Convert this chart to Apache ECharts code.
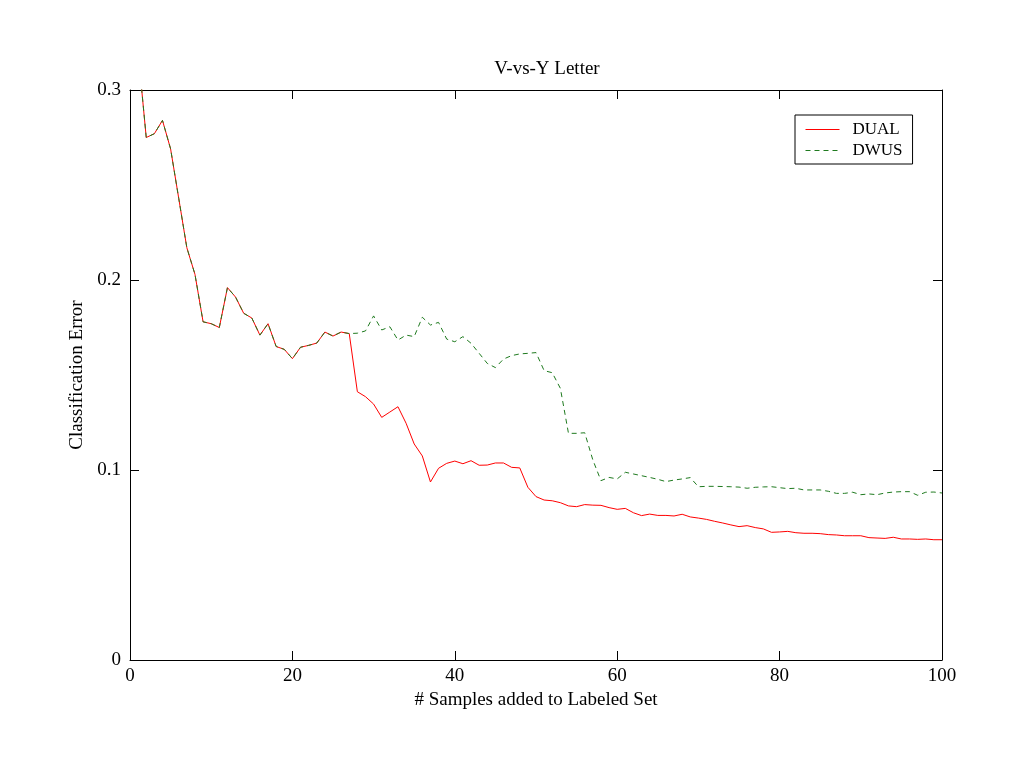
<!DOCTYPE html>
<html lang="en">
<head>
<meta charset="UTF-8">
<title>V-vs-Y Letter</title>
<script src="https://cdn.jsdelivr.net/npm/echarts@6/dist/echarts.min.js"></script>
<style>body{margin:0;background:#fff;}</style>
</head>
<body>
<div id="main" style="width:1024px;height:768px"></div>
<script type="text/javascript">
  // # samples 1..100
  var samples = [];
  for (var i = 1; i <= 100; i++) samples.push(i);

  var dual = [
    0.32, 0.275, 0.277, 0.284, 0.269, 0.243, 0.217, 0.203, 0.178, 0.177,
    0.175, 0.196, 0.191, 0.1825, 0.180, 0.171, 0.177, 0.165, 0.1635, 0.1586,
    0.1646, 0.1656, 0.1668, 0.1726, 0.1705, 0.1726, 0.1718, 0.1412, 0.1386, 0.1347,
    0.1277, 0.1305, 0.1333, 0.1246, 0.1137, 0.1074, 0.0937, 0.1009, 0.1035, 0.1047,
    0.1033, 0.1049, 0.1025, 0.1026, 0.1037, 0.1037, 0.1014, 0.1011, 0.0909, 0.086,
    0.0842, 0.0838, 0.0828, 0.0811, 0.0807, 0.0818, 0.0815, 0.0814, 0.0802, 0.0793,
    0.0798, 0.0775, 0.076, 0.0768, 0.0761, 0.0761, 0.0758, 0.0767, 0.0753, 0.0747,
    0.074, 0.073, 0.0721, 0.0711, 0.0702, 0.0707, 0.0697, 0.069, 0.0672, 0.0674,
    0.0677, 0.067, 0.0667, 0.0667, 0.0665, 0.066, 0.0658, 0.0654, 0.0654, 0.0654,
    0.0644, 0.0642, 0.064, 0.0646, 0.0637, 0.0637, 0.0635, 0.0637, 0.0633, 0.0633
  ];

  var dwus = [
    0.32, 0.275, 0.277, 0.284, 0.269, 0.243, 0.217, 0.203, 0.178, 0.177,
    0.175, 0.196, 0.191, 0.1825, 0.180, 0.171, 0.177, 0.165, 0.1635, 0.1586,
    0.1646, 0.1656, 0.1668, 0.1726, 0.1705, 0.1726, 0.1718, 0.1720, 0.1732, 0.1811,
    0.1737, 0.1754, 0.1684, 0.171, 0.1702, 0.1804, 0.1763, 0.1777, 0.1689, 0.1675,
    0.1702, 0.1667, 0.1614, 0.1561, 0.1539, 0.1584, 0.1602, 0.1611, 0.1614, 0.1618,
    0.1523, 0.1512, 0.143, 0.1193, 0.1193, 0.1196, 0.1053, 0.0944, 0.0961, 0.0953,
    0.0988, 0.0979, 0.097, 0.0961, 0.0951, 0.0939, 0.0947, 0.0953, 0.096, 0.0912,
    0.0914, 0.0914, 0.0913, 0.0912, 0.091, 0.0904, 0.0909, 0.0911, 0.0912, 0.0907,
    0.0902, 0.0904, 0.0895, 0.0895, 0.0895, 0.0888, 0.0877, 0.0877, 0.0883, 0.087,
    0.0874, 0.087, 0.0879, 0.0884, 0.0886, 0.0886, 0.0867, 0.0883, 0.0884, 0.0879
  ];

  function pairs(ys) {
    return samples.map(function (x, k) { return [x, ys[k]]; });
  }

  var font = 'Liberation Serif, Times New Roman, serif';
  var axisLine = {show: true, onZero: false, lineStyle: {color: '#000', width: 1}};
  var axisTick = {show: true, inside: true, length: 9, lineStyle: {color: '#000'}};
  var myChart = echarts.init(document.getElementById('main'));
  var option = {
    backgroundColor: '#fff',
    animation: false,
    title: {
      text: 'V-vs-Y Letter',
      left: 542, top: 55, textAlign: 'center',
      textStyle: {fontFamily: font, fontSize: 19, fontWeight: 'normal', color: '#000'}
    },
    legend: {
      left: 795, top: 115,
      orient: 'vertical',
      itemWidth: 34, itemHeight: 12, itemGap: 4,
      padding: [6, 10, 5, 10],
      borderColor: '#000', borderWidth: 1, borderRadius: 0,
      itemStyle: {opacity: 0},
      lineStyle: {width: 1},
      textStyle: {fontFamily: font, fontSize: 17, color: '#000', padding: [0, 0, 0, 8]},
      data: ['DUAL', 'DWUS']
    },
    grid: {left: 130, right: 82, top: 90, bottom: 108},
    xAxis: [
      {
        type: 'value', min: 0, max: 100, interval: 20,
        name: '# Samples added to Labeled Set', nameLocation: 'middle', nameGap: 30,
        nameTextStyle: {fontFamily: font, fontSize: 19, color: '#000'},
        axisLine: axisLine, axisTick: axisTick,
        axisLabel: {fontFamily: font, fontSize: 19, color: '#000', margin: 7},
        splitLine: {show: false}
      },
      {
        type: 'value', min: 0, max: 100, interval: 20, position: 'top',
        axisLine: axisLine, axisTick: axisTick,
        axisLabel: {show: false},
        splitLine: {show: false}
      }
    ],
    yAxis: [
      {
        type: 'value', min: 0, max: 0.3, interval: 0.1,
        name: 'Classification Error', nameLocation: 'middle', nameGap: 43,
        nameTextStyle: {fontFamily: font, fontSize: 19, color: '#000'},
        axisLine: axisLine, axisTick: axisTick,
        axisLabel: {fontFamily: font, fontSize: 19, color: '#000', margin: 9},
        splitLine: {show: false}
      },
      {
        type: 'value', min: 0, max: 0.3, interval: 0.1, position: 'right',
        axisLine: axisLine, axisTick: axisTick,
        axisLabel: {show: false},
        splitLine: {show: false}
      }
    ],
    series: [
      {
        name: 'DUAL', type: 'line', symbol: 'none', data: pairs(dual),
        lineStyle: {color: '#ff0000', width: 1}, itemStyle: {color: '#ff0000'}
      },
      {
        name: 'DWUS', type: 'line', symbol: 'none', data: pairs(dwus),
        lineStyle: {color: '#1f7a1f', width: 1, type: [5, 4]}, itemStyle: {color: '#1f7a1f'}
      }
    ]
  };
  myChart.setOption(option);
</script>
</body>
</html>
